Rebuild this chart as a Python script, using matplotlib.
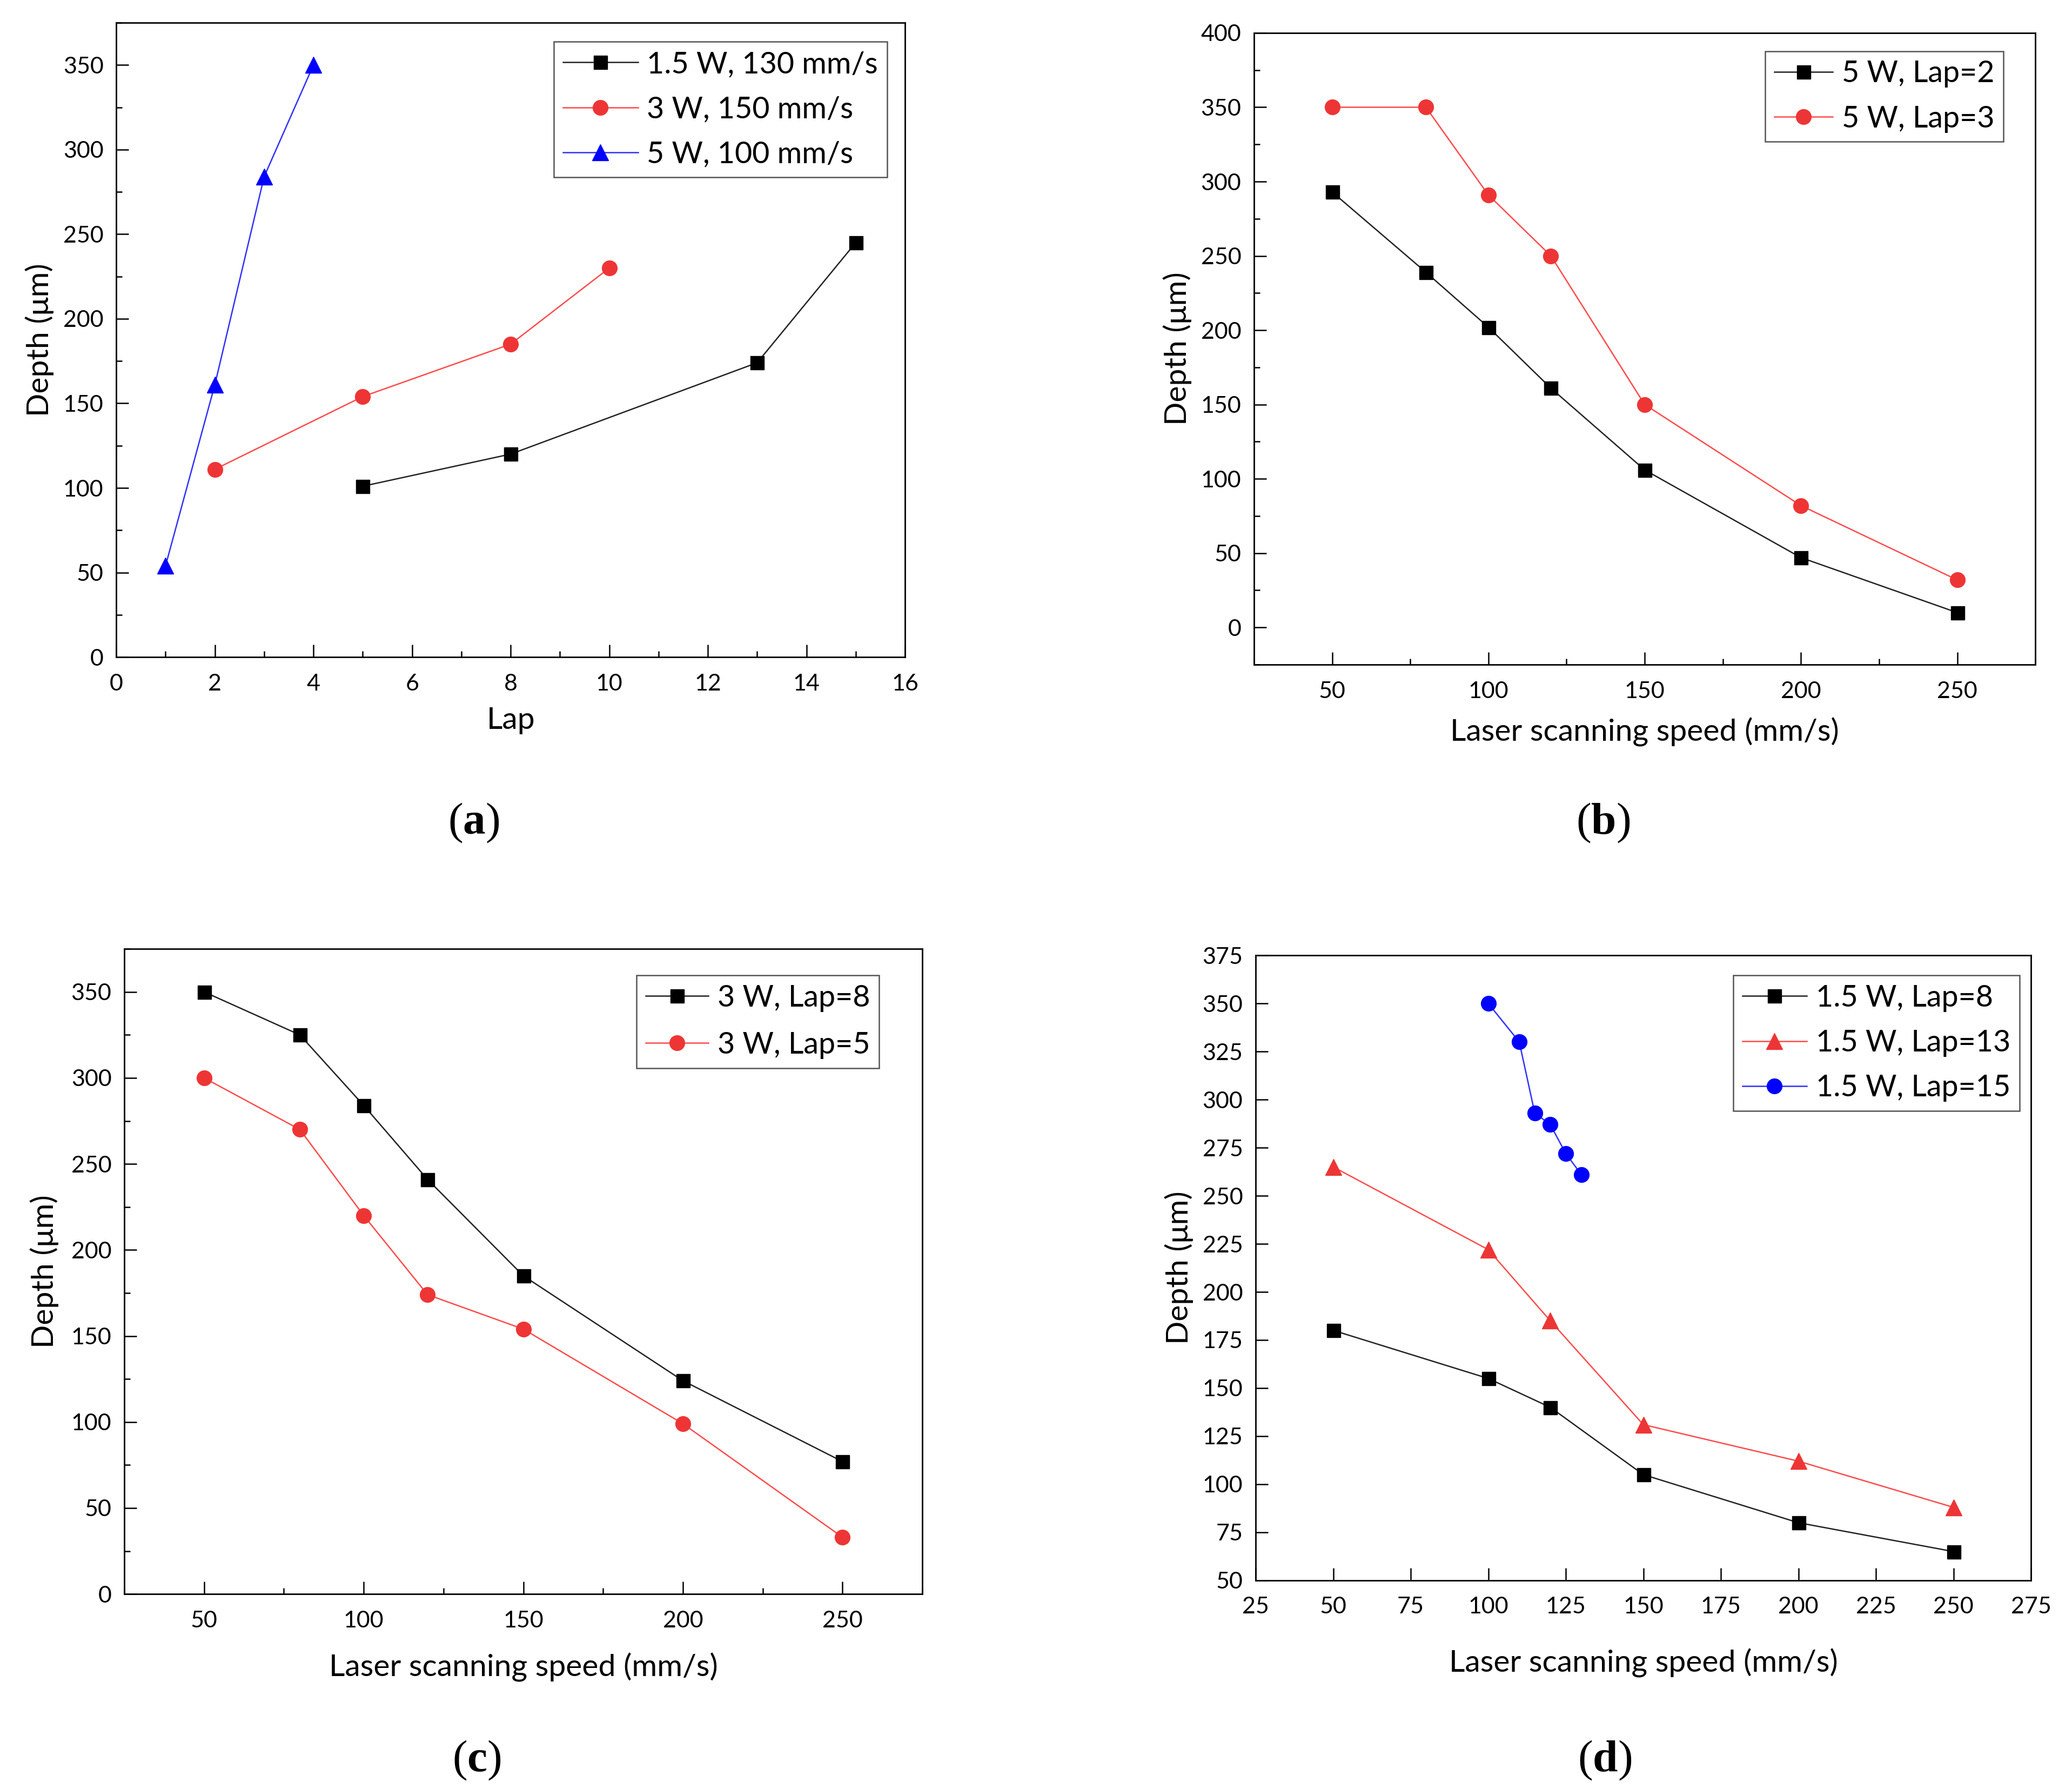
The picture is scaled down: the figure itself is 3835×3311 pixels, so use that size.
import matplotlib
matplotlib.use('Agg')
import matplotlib.pyplot as plt
from matplotlib.ticker import MultipleLocator

plt.rcParams['font.family'] = ['Lato', 'DejaVu Sans']
plt.rcParams['mathtext.fontset'] = 'custom'
plt.rcParams['mathtext.rm'] = 'Liberation Serif'
plt.rcParams['mathtext.bf'] = 'Liberation Serif:bold'

# (a) depth vs lap
lap_15w = [5, 8, 13, 15]
depth_15w = [101, 120, 174, 245]
lap_3w = [2, 5, 8, 10]
depth_3w = [111, 154, 185, 230]
lap_5w = [1, 2, 3, 4]
depth_5w = [54, 161, 284, 350]

# (b) 5 W
speed_b = [50, 80, 100, 120, 150, 200, 250]
depth_b_lap2 = [293, 239, 202, 161, 106, 47, 10]
depth_b_lap3 = [350, 350, 291, 250, 150, 82, 32]

# (c) 3 W
speed_c = [50, 80, 100, 120, 150, 200, 250]
depth_c_lap8 = [350, 325, 284, 241, 185, 124, 77]
depth_c_lap5 = [300, 270, 220, 174, 154, 99, 33]

# (d) 1.5 W
speed_d = [50, 100, 120, 150, 200, 250]
depth_d_lap8 = [180, 155, 140, 105, 80, 65]
depth_d_lap13 = [265, 222, 185, 131, 112, 88]
speed_d15 = [100, 110, 115, 120, 125, 130]
depth_d_lap15 = [350, 330, 293, 287, 272, 261]

BLACK = dict(color='#222222', mfc='black', mec='black')
RED = dict(color='#FF4A4A', mfc='#EE3535', mec='#EE3535')
BLUE = dict(color='#3030FF', mfc='#0000FF', mec='#0000FF')
LW = 1.8

fig = plt.figure(figsize=(38.35, 33.11), dpi=100)

ax_a = fig.add_axes([0.0561, 0.6327, 0.3807, 0.3546])
ax_b = fig.add_axes([0.6052, 0.6285, 0.3771, 0.3531])
ax_c = fig.add_axes([0.0600, 0.1090, 0.3851, 0.3606])
ax_d = fig.add_axes([0.6060, 0.1166, 0.3742, 0.3494])


def line(ax, x, y, marker, ms, style, label):
    ax.plot(x, y, marker=marker, ms=ms, lw=LW, mew=1, label=label, **style)


def style_axes(ax, xlim, ylim, xmaj, xmin, ymaj, ymin, xlabel, xpad, ypad):
    ax.set_xlim(*xlim)
    ax.set_ylim(*ylim)
    ax.xaxis.set_major_locator(MultipleLocator(xmaj))
    ax.yaxis.set_major_locator(MultipleLocator(ymaj))
    if xmin:
        ax.xaxis.set_minor_locator(MultipleLocator(xmin))
    if ymin:
        ax.yaxis.set_minor_locator(MultipleLocator(ymin))
    for s in ax.spines.values():
        s.set_linewidth(2.0)
    ax.tick_params(which='both', direction='in', top=False, right=False, width=1.8)
    ax.tick_params(which='major', length=16.5, labelsize=31)
    ax.tick_params(which='minor', length=8)
    ax.tick_params(axis='x', which='major', pad=22)
    ax.tick_params(axis='y', which='major', pad=17)
    ax.set_xlabel(xlabel, fontsize=41, labelpad=xpad)
    ax.set_ylabel('Depth (μm)', fontsize=41, labelpad=ypad)


def legend(ax, anchor, hl, spacing=0.58):
    leg = ax.legend(loc='upper right', bbox_to_anchor=anchor, borderaxespad=0,
                    fontsize=40, handlelength=hl, handletextpad=0.3,
                    labelspacing=spacing, borderpad=0.3, fancybox=False,
                    framealpha=1, edgecolor='#555555')
    leg.get_frame().set_linewidth(1.8)


# (a)
line(ax_a, lap_15w, depth_15w, 's', 18, BLACK, '1.5 W, 130 mm/s')
line(ax_a, lap_3w, depth_3w, 'o', 20, RED, '3 W, 150 mm/s')
line(ax_a, lap_5w, depth_5w, '^', 21, BLUE, '5 W, 100 mm/s')
style_axes(ax_a, (0, 16), (0, 375), 2, 1, 50, 25, 'Lap', 17, 12)
legend(ax_a, (0.977, 0.970), 2.5)

# (b)
line(ax_b, speed_b, depth_b_lap2, 's', 18, BLACK, '5 W, Lap=2')
line(ax_b, speed_b, depth_b_lap3, 'o', 20, RED, '5 W, Lap=3')
style_axes(ax_b, (25, 275), (-25, 400), 50, 25, 50, 25,
           'Laser scanning speed (mm/s)', 21, 12)
legend(ax_b, (0.959, 0.971), 1.95)

# (c)
line(ax_c, speed_c, depth_c_lap8, 's', 18, BLACK, '3 W, Lap=8')
line(ax_c, speed_c, depth_c_lap5, 'o', 20, RED, '3 W, Lap=5')
style_axes(ax_c, (25, 275), (0, 375), 50, 25, 50, 25,
           'Laser scanning speed (mm/s)', 29, 16)
legend(ax_c, (0.946, 0.959), 2.1, 0.65)

# (d)
line(ax_d, speed_d, depth_d_lap8, 's', 18, BLACK, '1.5 W, Lap=8')
line(ax_d, speed_d, depth_d_lap13, '^', 21, RED, '1.5 W, Lap=13')
line(ax_d, speed_d15, depth_d_lap15, 'o', 20, BLUE, '1.5 W, Lap=15')
style_axes(ax_d, (25, 275), (50, 375), 25, None, 25, None,
           'Laser scanning speed (mm/s)', 41, 12)
legend(ax_d, (0.985, 0.968), 2.15)

# panel captions
for x, y, letter in [(0.2287, 0.540, 'a'), (0.7737, 0.540, 'b'),
                     (0.2302, 0.016, 'c'), (0.7745, 0.016, 'd')]:
    fig.text(x, y, r'($\mathbf{%s}$)' % letter, ha='center', va='center',
             fontsize=60, family='Liberation Serif')

fig.savefig('out.png', dpi=100)
